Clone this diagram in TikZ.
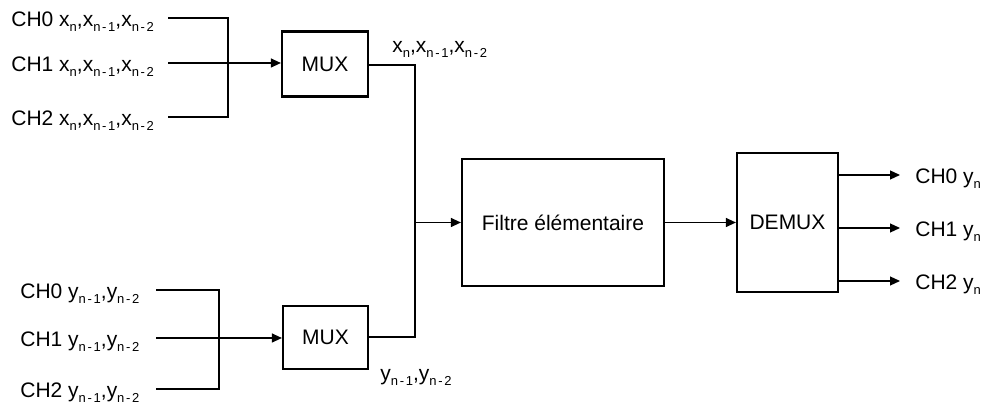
\documentclass[tikz,border=0pt]{standalone}
\usepackage{fontspec}
\setmainfont{Liberation Sans}
\usetikzlibrary{arrows.meta,positioning}
\newcommand{\ind}[1]{\raisebox{-2.2pt}{\fontsize{6.5}{7}\selectfont\addfontfeature{LetterSpace=13}#1}}
\tikzset{
  bloc/.style={draw, line width=1.1pt, inner sep=0pt, align=center},
  fil/.style={line width=0.6pt},
  fleche/.style={fil, -{Triangle[length=5pt,width=4.5pt]}},
  etiq/.style={anchor=base west, inner sep=0pt},
}

\begin{document}
\begin{tikzpicture}[x=0.5pt,y=-0.5pt,font=\fontsize{10.5}{12}\selectfont]
        \useasboundingbox (0,0) rectangle (987,405);

        % Les blocs
        \node[bloc, minimum width=43pt, minimum height=32.5pt] (mux1) at (325,64) {MUX};
        \node[bloc, minimum width=42.5pt, minimum height=31.5pt] (mux2) at (325.5,337.5) {MUX};
        \node[bloc, minimum width=101pt, minimum height=63.5pt] (filtre) at (563,222.5) {Filtre élémentaire};
        \node[bloc, minimum width=50.5pt, minimum height=69.5pt] (demux) at (787.5,222.5) {DEMUX};

        % Entrées x
        \foreach \i/\y in {0/18,1/63,2/117}{
            \coordinate (ex\i) at (168,\y);
            \node[etiq] (lx\i) at (11,\y+9) {CH\i{} x\ind{n},x\ind{n-1},x\ind{n-2}};
        }
        \coordinate (jx0) at (228,18);
        \coordinate (jx2) at (228,117);
        \draw[fil] (ex0) -- (jx0) -- (jx2) -- (ex2);
        \draw[fleche] (ex1) -- (ex1 -| mux1.west);

        % Entrées y
        \foreach \i/\y in {0/290,1/338,2/389}{
            \coordinate (ey\i) at (156,\y);
            \node[etiq] (ly\i) at (20,\y+9) {CH\i{} y\ind{n-1},y\ind{n-2}};
        }
        \coordinate (jy0) at (219,290);
        \coordinate (jy2) at (219,389);
        \draw[fil] (ey0) -- (jy0) -- (jy2) -- (ey2);
        \draw[fleche] (ey1) -- (ey1 -| mux2.west);

        % Bus vers le filtre
        \coordinate (b1) at (415,65);
        \coordinate (b2) at (415,337);
        \coordinate (b) at (415,222.5);
        \draw[fil] (mux1.east |- b1) -- (b1) -- (b2) -- (mux2.east |- b2);
        \draw[fleche] (b) -- (filtre.west);
        \draw[fleche] (filtre.east) -- (demux.west);

        % Labels des bus
        \node[etiq] (lbx) at (392,53) {x\ind{n},x\ind{n-1},x\ind{n-2}};
        \node[etiq] (lby) at (380,381) {y\ind{n-1},y\ind{n-2}};

        % Sorties
        \foreach \i/\y in {0/175,1/228,2/281}{
            \coordinate (s\i) at (900,\y);
            \node[etiq] (ls\i) at (915,\y+9) {CH\i{} y\ind{n}};
            \draw[fleche] (demux.east |- s\i) -- (s\i);
        }
\end{tikzpicture}
\end{document}
